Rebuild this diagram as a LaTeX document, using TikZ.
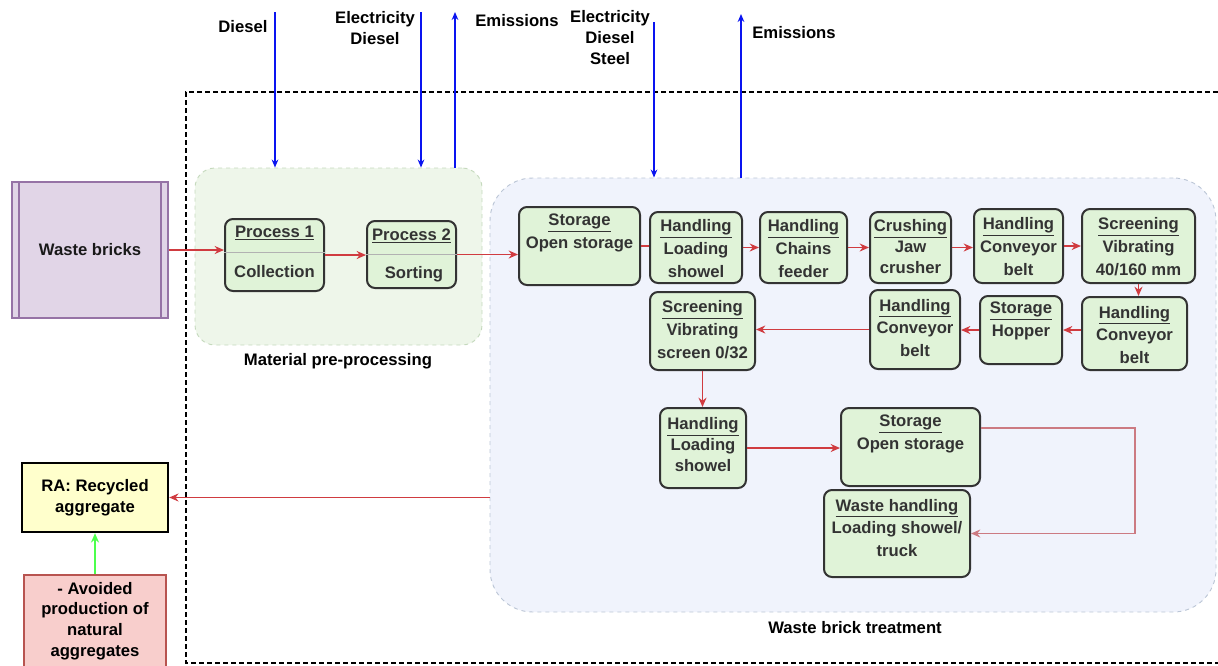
\documentclass[tikz,border=0pt]{standalone}
\usepackage{fontspec}
\setmainfont{Liberation Sans}
\usetikzlibrary{arrows.meta,calc}
\definecolor{boxfill}{HTML}{E0F3D8}
\definecolor{boxdraw}{HTML}{333333}
\definecolor{reggreen}{HTML}{EEF6EA}
\definecolor{reggreenb}{HTML}{C5D9BD}
\definecolor{regblue}{HTML}{F0F3FC}
\definecolor{regblueb}{HTML}{BCC6D6}
\definecolor{redarr}{HTML}{D03B40}
\definecolor{pinkarr}{HTML}{CC7A82}
\definecolor{bluearr}{HTML}{0A14F0}
\definecolor{greenarr}{HTML}{4CFF4C}
\definecolor{purfill}{HTML}{E1D5E7}
\definecolor{purdraw}{HTML}{9673A6}
\definecolor{rafill}{HTML}{FFFFCC}
\definecolor{avfill}{HTML}{F8CECC}
\definecolor{avdraw}{HTML}{B85450}
\begin{document}
\begin{tikzpicture}[x=0.75pt,y=-0.75pt,
  every node/.style={font=\bfseries\fontsize{12.5}{17}\selectfont, inner sep=0pt},
  sz/.style 2 args={minimum width=#1*0.75pt, minimum height=#2*0.75pt},
  pbox/.style={draw=boxdraw, fill=boxfill, line width=1.5pt, rounded corners=6pt},
  ptext/.style={text=boxdraw, align=center},
  lbl/.style={text=black, align=center},
  rarr/.style={draw=redarr, line width=1.4pt, -{Stealth[length=7pt,width=6pt]}},
  rline/.style={draw=redarr, line width=1.4pt},
  barr/.style={draw=bluearr, line width=1.4pt, -{Stealth[length=6pt,width=5pt]}},
]
\useasboundingbox (0,0) rectangle (1218,665);

% regions
\node[sz={287}{177}, fill=reggreen, draw=reggreenb, dashed, line width=0.7pt, rounded corners=15pt] (reg1) at (338.5,256.5) {};
\node[sz={726}{434}, fill=regblue, draw=regblueb, dashed, line width=0.7pt, rounded corners=32pt] (reg2) at (853,395) {};
\node[lbl] (reg1l) at (338,361) {Material pre-processing};
\node[lbl] (reg2l) at (855,628) {Waste brick treatment};

% outer dashed boundary
\coordinate (o1) at (1218,92);
\coordinate (o2) at (186,92);
\coordinate (o3) at (186,663);
\coordinate (o4) at (1218,663);
\draw[black, line width=1.3pt, dash pattern=on 3.5pt off 2.5pt] (o1) -- (o2) -- (o3) -- (o4);

% waste bricks
\node[sz={156}{136}, fill=purfill, draw=purdraw, line width=1.5pt] (wb) at (90,250) {};
\draw[purdraw, line width=1.5pt] ([xshift=6pt]wb.north west) -- ([xshift=6pt]wb.south west);
\draw[purdraw, line width=1.5pt] ([xshift=-6pt]wb.north east) -- ([xshift=-6pt]wb.south east);
\node[lbl, text=black!90] (wbt) at (90,250) {Waste bricks};

% process 1 & 2
\node[pbox, sz={99}{72}] (p1) at (274.5,255) {};
\draw[gray!60, line width=0.6pt] ([yshift=2.25pt]p1.west) -- ([yshift=2.25pt]p1.east);
\node[ptext] (p1a) at (274.5,233) {\underline{Process 1}};
\node[ptext] (p1b) at (274.5,272) {Collection};
\node[pbox, sz={89}{67}] (p2) at (411.5,254.5) {};
\draw[gray!60, line width=0.6pt] (p2.west) -- (p2.east);
\node[ptext] (p2a) at (411.5,236) {\underline{Process 2}};
\node[ptext] (p2b) at (414,274) {Sorting};

% row 1
\node[pbox, sz={121}{78}] (s1) at (579.5,246) {};
\node[ptext] (s1t) at (579.5,233) {\underline{Storage}\\Open storage};
\node[pbox, sz={92}{71}] (h1) at (696,247.5) {};
\node[ptext] (h1t) at (696,248.5) {\underline{Handling}\\Loading\\showel};
\node[pbox, sz={87}{71}] (h2) at (803.5,247.5) {};
\node[ptext] (h2t) at (803.5,248.5) {\underline{Handling}\\Chains\\feeder};
\node[pbox, sz={81}{71}] (c1) at (910.5,247.5) {};
\node[ptext, font=\bfseries\fontsize{12.5}{15.5}\selectfont] (c1t) at (910.5,246.5) {\underline{Crushing}\\Jaw\\crusher};
\node[pbox, sz={89}{74}] (h3) at (1018.5,246) {};
\node[ptext] (h3t) at (1018.5,246.5) {\underline{Handling}\\Conveyor\\belt};
\node[pbox, sz={113}{74}] (sc1) at (1138.5,246) {};
\node[ptext] (sc1t) at (1138.5,246.5) {\underline{Screening}\\Vibrating\\40/160 mm};

% row 2
\node[pbox, sz={105}{73}] (h4) at (1134.5,333.5) {};
\node[ptext] (h4t) at (1134.5,335) {\underline{Handling}\\Conveyor\\belt};
\node[pbox, sz={82}{68}] (st2) at (1021,330) {};
\node[ptext] (st2t) at (1021,321) {\underline{Storage}\\Hopper};
\node[pbox, sz={90}{79}] (h5) at (915,329.5) {};
\node[ptext] (h5t) at (915,328) {\underline{Handling}\\Conveyor\\belt};
\node[pbox, sz={105}{78}] (sc2) at (702.5,331) {};
\node[ptext] (sc2t) at (702.5,329.5) {\underline{Screening}\\Vibrating\\screen 0/32};

% row 3
\node[pbox, sz={86}{80}] (h6) at (703,448) {};
\node[ptext, font=\bfseries\fontsize{12.5}{15.5}\selectfont] (h6t) at (703,444.5) {\underline{Handling}\\Loading\\showel};
\node[pbox, sz={139}{78}] (st3) at (910.5,447) {};
\node[ptext] (st3t) at (910.5,434) {\underline{Storage}\\Open storage};
\node[pbox, sz={146}{87}] (wh) at (897,533.5) {};
\node[ptext] (wht) at (897,528) {\underline{Waste handling}\\Loading showel/\\truck};

% RA and avoided
\node[sz={146}{69}, fill=rafill, draw=black, line width=1.8pt] (ra) at (95,497.5) {};
\node[lbl, font=\bfseries\fontsize{12.5}{15.8}\selectfont] (rat) at (95,497.5) {RA: Recycled\\aggregate};
\node[sz={142}{92}, fill=avfill, draw=avdraw, line width=1.5pt] (av) at (95,621) {};
\node[lbl, font=\bfseries\fontsize{12.5}{15.6}\selectfont] (avt) at (95,621) {- Avoided\\production of\\natural\\aggregates};

% connectors
\draw[rarr] (wb.east) -- (wb.east -| p1.west);
\draw[rarr] (p1.east) -- (p1.east -| p2.west);
\draw[rarr] (p2.east) -- (p2.east -| s1.west);
\draw[rline] (s1.east) -- (s1.east -| h1.west);
\draw[rarr] (h1.east) -- (h1.east -| h2.west);
\draw[rarr] (h2.east) -- (h2.east -| c1.west);
\draw[rarr] (c1.east) -- (c1.east -| h3.west);
\draw[rarr] (h3.east) -- (h3.east -| sc1.west);
\draw[rarr] (sc1.south) -- (sc1.south |- h4.north);
\draw[rarr] (st2.east -| h4.west) -- (st2.east);
\draw[rarr] (st2.west) -- (st2.west -| h5.east);
\draw[rarr] (h5.west) -- (h5.west -| sc2.east);
\draw[rarr] (sc2.south) -- (sc2.south |- h6.north);
\draw[rarr] (h6.east) -- (h6.east -| st3.west);
\coordinate (lc) at (1135,400);
\draw[draw=pinkarr, line width=1.4pt, -{Stealth[length=7pt,width=6pt]}] ([yshift=14.25pt]st3.east) -| (lc |- wh.east) -- (wh.east);
\draw[rarr] (reg2.west |- ra.east) -- (ra.east);
\draw[draw=greenarr, line width=1.4pt, -{Stealth[length=7pt,width=6pt]}] (av.north) -- (ra.south);

% top inputs/outputs
\coordinate (d1) at (275,12);
\coordinate (d2) at (421,12);
\coordinate (e1) at (455,12);
\coordinate (d3) at (654,22);
\coordinate (e2) at (741,14);
\draw[barr] (d1) -- (d1 |- reg1.north);
\draw[barr] (d2) -- (d2 |- reg1.north);
\draw[barr] (e1 |- reg1.north) -- (e1);
\draw[barr] (d3) -- (d3 |- reg2.north);
\draw[barr] (e2 |- reg2.north) -- (e2);
\node[lbl] (t1) at (243,27) {Diesel};
\node[lbl, font=\bfseries\fontsize{12.5}{15.8}\selectfont] (t2) at (375,28.5) {Electricity\\Diesel};
\node[lbl] (t3) at (517,21) {Emissions};
\node[lbl, font=\bfseries\fontsize{12.5}{15.5}\selectfont] (t4) at (610,37.5) {Electricity\\Diesel\\Steel};
\node[lbl] (t5) at (794,33) {Emissions};
\end{tikzpicture}
\end{document}
